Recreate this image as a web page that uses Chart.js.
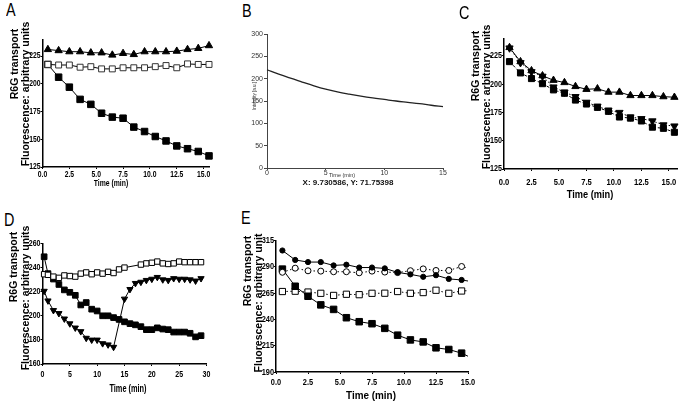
<!DOCTYPE html>
<html>
<head>
<meta charset="utf-8">
<script src="https://cdn.jsdelivr.net/npm/chart.js@4.4.1/dist/chart.umd.min.js"></script>
<style>
  body { margin: 0; width: 683px; height: 404px; overflow: hidden; background: #fff; position: relative; }
  canvas { position: absolute; }
  .txt { position: absolute; white-space: nowrap; line-height: 1; color: #000; font-family: "Liberation Sans", Arial, sans-serif; }
  .letter { font-size: 18px; transform-origin: 0 0; transform: scaleX(0.8); }
  .ytitle { font-weight: bold; font-size: 10.5px; transform: translate(-50%, -50%) rotate(-90deg); }
  .bold { font-weight: bold; }
</style>
</head>
<body>
<script>
// panel A
const A_TIME = [0.5, 1.5, 2.5, 3.5, 4.5, 5.5, 6.5, 7.5, 8.5, 9.5, 10.5, 11.5, 12.5, 13.5, 14.5, 15.5];
const A_TRIANGLE = [231, 230, 229, 229, 228, 228, 226, 227.5, 226.5, 229, 229, 229, 229.5, 231, 232, 234.5];
const A_OPEN_SQUARE = [217.5, 217, 217, 215, 215.5, 213.5, 213.5, 214.5, 214.5, 214.5, 215.5, 216.5, 214.5, 218, 217.5, 217.5];
const A_FILLED_SQUARE = [217.5, 206, 197, 186, 181.5, 173.5, 170, 169, 161, 157, 152.5, 148.5, 144, 141.5, 139, 135];
const A_Y_TICKS = [125, 150, 175, 200, 225];
const A_X_TICKS = [0, 2.5, 5, 7.5, 10, 12.5, 15];

// panel B
const B_TIME = [0, 1, 2, 3, 4, 5, 6, 7, 8, 9, 10, 11, 12, 13, 14, 15];
const B_INTENSITY = [220, 210, 201, 192.5, 184, 176.5, 170.5, 165.5, 161, 157, 153.5, 150, 147, 144, 140.5, 137.5];
const B_Y_TICKS = [0, 50, 100, 150, 200, 250, 300];
const B_X_TICKS = [0, 5, 10, 15];

// panel C
const C_TIME = [0.5, 1.5, 2.5, 3.5, 4.5, 5.5, 6.5, 7.5, 8.5, 9.5, 10.5, 11.5, 12.5, 13.5, 14.5, 15.5];
const C_TRIANGLE = [232.5, 220, 212, 207.5, 203.5, 201.5, 198, 195.5, 196, 193, 193, 190, 190, 190, 189, 188.5];
const C_INV_TRIANGLE = [232, 219, 211, 207, 197.5, 193, 189, 184, 180.5, 177, 175, 171, 169.5, 167.5, 164, 163];
const C_SQUARE = [220, 210, 205, 200.5, 195, 192, 186, 182.5, 179.5, 176, 171, 170, 167.5, 162, 161, 157.5];
const C_Y_TICKS = [125, 150, 175, 200, 225];
const C_X_TICKS = [0, 2.5, 5, 7.5, 10, 12.5, 15];

// panel D
const D_TIME = [0.3, 1, 2, 3, 4, 5, 6, 7, 8, 9, 10, 11, 12, 13, 14, 15, 16, 17, 18, 19, 20, 21, 22, 23, 24, 25, 26, 27, 28, 29];
const D_OPEN_SQUARE = [234.5, 234, 232.5, 231.5, 233.5, 233, 232.5, 235, 236, 234.5, 236, 235, 236.5, 235.5, 238.5, 240, null, null, 242.5, 243.5, 244, 245, 243.5, 243, 243.5, 245, 244.5, 244.5, 244.5, 244.5];
const D_FILLED_SQUARE = [249, 235, 230.5, 226, 221.5, 219.5, 217, 209, 211, 205.5, 204, 200, 200, 198.5, 197, 195, 193.5, 192.5, 191, 188.5, 188.5, 190, 189, 188.5, 186.5, 186.5, 186.5, 185.5, 182.5, 183.5];
const D_INV_TRIANGLE = [220.5, 212.5, 204.5, 202, 197.5, 193.5, 190, 187, 181.5, 180, 180, 177, 176, 174, null, 214, 222, 227, 228, 229.5, 230.5, 232, 230, 229.5, 231, 230.5, 230.5, 230, 229, 231];
const D_Y_TICKS = [160, 180, 200, 220, 240, 260];
const D_X_TICKS = [0, 5, 10, 15, 20, 25, 30];

// panel E (last time point is where the fitted lines stop)
const E_TIME = [0.5, 1.5, 2.5, 3.5, 4.5, 5.5, 6.5, 7.5, 8.5, 9.5, 10.5, 11.5, 12.5, 13.5, 14.5, 15];
const E_FILLED_CIRCLE = [305.5, 296.5, 294.5, 294.5, 291.3, 292, 289.3, 289.3, 288.5, 284.7, 282.8, 280.5, 282, 278.5, 277.5, 276.5];
const E_OPEN_CIRCLE = [284.8, 288.7, 286.2, 285.9, 285.3, 285.3, 284.3, 285.9, 285, 284.5, 286.3, 288, 286.5, 286.5, 290.3, 288.7];
const E_FILLED_SQUARE = [287.8, 271.5, 262, 253.8, 249.5, 241.6, 237.8, 235.9, 231.5, 225, 220.5, 218.6, 213, 211.4, 207.9, 205];
const E_OPEN_SQUARE = [266.5, 266.8, 266, 264.8, 262.8, 263.9, 263.5, 264.8, 264.9, 266.5, 264.8, 265.5, 267.7, 264.8, 267, 267.3];
const E_Y_TICKS = [190, 215, 240, 265, 290, 315];
const E_X_TICKS = [0, 2.5, 5, 7.5, 10, 12.5, 15];

const SANS = "'Liberation Sans', Arial, sans-serif";

// the scanned figure has its lettering squashed sideways; no narrow font is installed,
// so canvas text is drawn with a horizontal scale around its anchor point
const squeezeText = {
  id: "squeezeText",
  beforeDraw(chart, args, opts) {
    const ctx = chart.ctx;
    const k = opts.factor || 1;
    if (k === 1 || ctx.squeezed) return;
    ctx.fillText = function (text, x, y) {
      this.save();
      this.translate(x, y);
      this.scale(k, 1);
      CanvasRenderingContext2D.prototype.fillText.call(this, text, 0, 0);
      this.restore();
    };
    ctx.squeezed = true;
  }
};
Chart.register(squeezeText);

function addText(cls, text, x, y, style) {
  const el = document.createElement("div");
  el.className = "txt " + cls;
  el.textContent = text;
  el.style.left = x + "px";
  el.style.top = y + "px";
  Object.assign(el.style, style || {});
  document.body.appendChild(el);
}

function xTitle(x, y, size, squeeze) {
  addText("bold", "Time (min)", x, y, { fontSize: size + "px", transform: "translate(-50%, -50%) scaleX(" + squeeze + ")" });
}

function series(xs, ys, style) {
  return Object.assign({
    data: xs.map((x, i) => ({ x: x, y: ys[i] })),
    borderColor: "#000",
    borderWidth: 1,
    pointBorderColor: "#000",
    pointBackgroundColor: "#000",
    pointBorderWidth: 1,
    tension: 0,
    spanGaps: true,
    clip: false
  }, style);
}

const filledSquare = { pointStyle: "rect", pointRadius: 4.6 };
const openSquare = { pointStyle: "rect", pointRadius: 4.2, pointBackgroundColor: "#fff" };
const triangle = { pointStyle: "triangle", pointRadius: 4.2 };
const invTriangle = { pointStyle: "triangle", pointRotation: 180, pointRadius: 4.2 };

function axis(spec, size, horizontal) {
  return {
    type: "linear",
    min: spec.min,
    max: spec.max,
    afterBuildTicks: s => { s.ticks = spec.ticks.map(v => ({ value: v })); },
    afterFit: s => {
      if (horizontal) s.height = size; else s.width = size;
      s.paddingLeft = s.paddingRight = s.paddingTop = s.paddingBottom = 0;
    },
    grid: { drawOnChartArea: false, tickLength: spec.tick || 2, color: spec.color || "#000", lineWidth: 1 },
    border: { color: spec.color || "#000", width: spec.border || 1.5 },
    ticks: {
      color: spec.textColor || "#000",
      font: spec.font || { family: SANS, size: 9, weight: "bold" },
      padding: spec.pad || 0,
      autoSkip: false,
      maxRotation: 0,
      callback: spec.fmt || (v => String(v))
    }
  };
}

function panel(box, area, squeeze, xSpec, ySpec, datasets) {
  const canvas = document.createElement("canvas");
  canvas.width = box.w;
  canvas.height = box.h;
  canvas.style.left = box.x + "px";
  canvas.style.top = box.y + "px";
  document.body.appendChild(canvas);
  return new Chart(canvas, {
    type: "line",
    data: { datasets: datasets },
    options: {
      responsive: false,
      animation: false,
      devicePixelRatio: 1,
      layout: { padding: { left: 0, bottom: 0, top: area.top - box.y, right: box.x + box.w - area.right } },
      plugins: { legend: { display: false }, tooltip: { enabled: false }, squeezeText: { factor: squeeze } },
      scales: {
        x: axis(xSpec, box.y + box.h - area.bottom, true),
        y: axis(ySpec, area.left - box.x, false)
      }
    }
  });
}

const oneDecimal = v => v.toFixed(1);

// A
const aFont = { family: SANS, size: 8.5, weight: "bold" };
panel({ x: 0, y: 20, w: 215, h: 170 }, { left: 42.5, top: 39.5, right: 209, bottom: 167 }, 0.8,
  { min: 0, max: 15.5, ticks: A_X_TICKS, fmt: oneDecimal, font: aFont, pad: 1 },
  { min: 125, max: 240, ticks: A_Y_TICKS, font: aFont },
  [
    series(A_TIME, A_TRIANGLE, triangle),
    series(A_TIME, A_OPEN_SQUARE, Object.assign({}, openSquare, { pointBorderColor: "#333" })),
    series(A_TIME, A_FILLED_SQUARE, filledSquare)
  ]);

// B
const bFont = { family: SANS, size: 7 };
panel({ x: 236, y: 25, w: 215, h: 155 }, { left: 267, top: 34, right: 443, bottom: 168 }, 1,
  { min: 0, max: 15, ticks: B_X_TICKS, font: bFont, color: "#444", textColor: "#333", border: 1, tick: 2, pad: -1 },
  { min: 0, max: 300, ticks: B_Y_TICKS, font: bFont, color: "#444", textColor: "#333", border: 1, tick: 3, pad: 1 },
  [series(B_TIME, B_INTENSITY, { pointRadius: 0, borderColor: "#222", borderWidth: 1.3, tension: 0.4 })]);

// C
panel({ x: 455, y: 20, w: 228, h: 170 }, { left: 504, top: 39, right: 683, bottom: 169 }, 0.8,
  { min: 0, max: 15.8, ticks: C_X_TICKS, fmt: oneDecimal, pad: 6, font: { family: SANS, size: 9.5, weight: "bold" } },
  { min: 125, max: 240, ticks: C_Y_TICKS },
  [
    series(C_TIME, C_TRIANGLE, triangle),
    series(C_TIME, C_INV_TRIANGLE, Object.assign({ borderDash: [1.5, 2] }, invTriangle)),
    series(C_TIME, C_SQUARE, Object.assign({ borderDash: [3, 2] }, filledSquare, { pointRadius: 4.3 }))
  ]);

// D
panel({ x: 0, y: 230, w: 215, h: 160 }, { left: 42.5, top: 243.5, right: 206.5, bottom: 364 }, 0.78,
  { min: 0, max: 30, ticks: D_X_TICKS, pad: 3 },
  { min: 160, max: 260, ticks: D_Y_TICKS },
  [
    series(D_TIME, D_OPEN_SQUARE, Object.assign({}, openSquare, { pointRadius: 3.8 })),
    series(D_TIME, D_FILLED_SQUARE, Object.assign({}, filledSquare, { pointRadius: 4 })),
    series(D_TIME, D_INV_TRIANGLE, Object.assign({}, invTriangle, { pointRadius: 3.6 }))
  ]);

// E
const eLast = E_TIME.length - 1;
const eRadius = r => E_TIME.map((t, i) => (i === eLast ? 0 : r));
const eFont = { family: SANS, size: 9.5, weight: "bold" };
panel({ x: 236, y: 230, w: 245, h: 160 }, { left: 276, top: 240.5, right: 468, bottom: 372 }, 0.78,
  { min: 0, max: 15, ticks: E_X_TICKS, fmt: oneDecimal, pad: 3, font: eFont },
  { min: 190, max: 315, ticks: E_Y_TICKS, font: eFont },
  [
    series(E_TIME, E_FILLED_CIRCLE, { pointStyle: "circle", pointRadius: eRadius(2.6) }),
    series(E_TIME, E_OPEN_CIRCLE, { pointStyle: "circle", pointRadius: eRadius(3), pointBackgroundColor: "#fff", borderDash: [1.5, 2.5] }),
    series(E_TIME, E_FILLED_SQUARE, { pointStyle: "rect", pointRadius: eRadius(4.6) }),
    series(E_TIME, E_OPEN_SQUARE, { pointStyle: "rect", pointRadius: eRadius(4.4), pointBackgroundColor: "#fff", borderDash: [1.5, 2.5] })
  ]);

// panel letters
addText("letter", "A", 6, 1);
addText("letter", "B", 242, 2);
addText("letter", "C", 459, 4);
addText("letter", "D", 4, 211);
addText("letter", "E", 241, 209);

// y axis titles, two lines placed separately as in the figure
addText("ytitle", "R6G transport", 14, 64);
addText("ytitle", "Fluorescence: arbitrary units", 25, 93.5);
addText("ytitle", "R6G transport", 475, 66);
addText("ytitle", "Fluorescence: arbitrary units", 486, 97);
addText("ytitle", "R6G transport", 13, 267);
addText("ytitle", "Fluorescence: arbitrary units", 25, 298);
addText("ytitle", "R6G transport", 247, 271);
addText("ytitle", "Fluorescence: arbitrary unit", 258, 303);

xTitle(111, 182.5, 9.5, 0.72);
xTitle(590, 193.5, 11, 0.84);
xTitle(128, 388, 11, 0.67);
xTitle(371, 395, 11, 0.9);

// panel B captions
const centred = { color: "#333", transform: "translate(-50%, -50%)" };
addText("", "Time (min)", 342, 176, Object.assign({}, centred, { fontSize: "5.5px" }));
addText("bold", "X: 9.730586, Y: 71.75398", 348, 183, Object.assign({}, centred, { fontSize: "8px", color: "#111" }));
addText("", "Intensity [a.u.]", 255, 96, Object.assign({}, centred, { fontSize: "4.5px", transform: "translate(-50%, -50%) rotate(-90deg)" }));
</script>
</body>
</html>
